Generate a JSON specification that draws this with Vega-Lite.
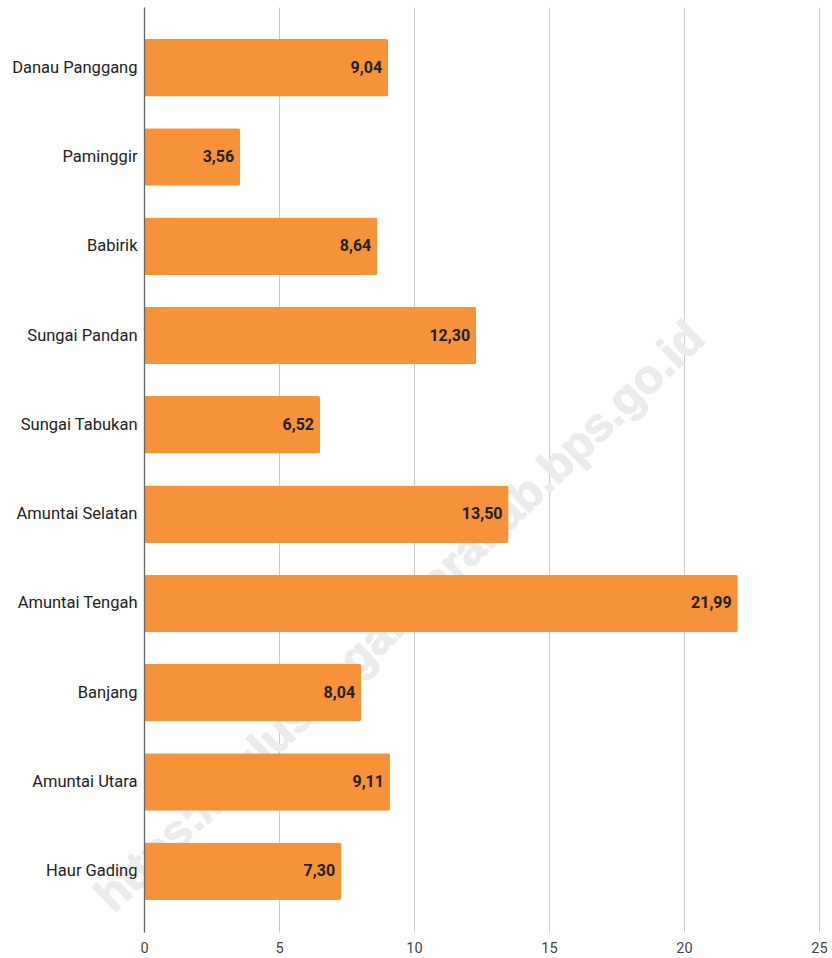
{
  "$schema": "https://vega.github.io/schema/vega-lite/v6.json",
  "width": 675,
  "height": 925,
  "autosize": {"type": "none"},
  "padding": {"left": 144, "top": 7, "right": 13, "bottom": 26},
  "background": "white",
  "config": {
    "view": {"stroke": null},
    "font": "Roboto",
    "locale": {"number": {"decimal": ",", "thousands": ".", "grouping": [3], "currency": ["Rp", ""]}}
  },
  "data": {
    "values": [
      {"kecamatan": "Danau Panggang", "nilai": 9.04},
      {"kecamatan": "Paminggir", "nilai": 3.56},
      {"kecamatan": "Babirik", "nilai": 8.64},
      {"kecamatan": "Sungai Pandan", "nilai": 12.30},
      {"kecamatan": "Sungai Tabukan", "nilai": 6.52},
      {"kecamatan": "Amuntai Selatan", "nilai": 13.50},
      {"kecamatan": "Amuntai Tengah", "nilai": 21.99},
      {"kecamatan": "Banjang", "nilai": 8.04},
      {"kecamatan": "Amuntai Utara", "nilai": 9.11},
      {"kecamatan": "Haur Gading", "nilai": 7.30}
    ]
  },
  "encoding": {
    "y": {
      "field": "kecamatan",
      "type": "nominal",
      "sort": null,
      "title": null,
      "scale": {
        "domain": ["Danau Panggang", "Paminggir", "Babirik", "Sungai Pandan", "Sungai Tabukan", "Amuntai Selatan", "Amuntai Tengah", "Banjang", "Amuntai Utara", "Haur Gading"],
        "paddingInner": 0.356,
        "paddingOuter": 0.358
      },
      "axis": {
        "zindex": 1,
        "ticks": false,
        "domain": true,
        "domainColor": "#666666",
        "domainWidth": 1.3,
        "labelFont": "Roboto",
        "labelFontSize": 16.5,
        "labelColor": "#222222",
        "labelPadding": 7,
        "grid": false
      }
    },
    "x": {
      "field": "nilai",
      "type": "quantitative",
      "title": null,
      "scale": {"domain": [0, 25], "nice": false},
      "axis": {
        "values": [0, 5, 10, 15, 20, 25],
        "ticks": false,
        "domain": false,
        "grid": true,
        "gridColor": "#cccccc",
        "gridWidth": 1,
        "labelFont": "Roboto",
        "labelFontSize": 14.5,
        "labelColor": "#444444",
        "labelPadding": 9,
        "labelFlush": false
      }
    }
  },
  "layer": [
    {
      "mark": {
        "type": "text",
        "align": "center",
        "baseline": "middle",
        "angle": -44,
        "font": "Liberation Sans",
        "fontSize": 47,
        "fontWeight": "bold",
        "yOffset": 14,
        "color": "#ececec",
        "text": "https://hulusungaiutarakab.bps.go.id"
      },
      "encoding": {
        "x": {"datum": 9.5, "type": "quantitative"},
        "y": {"datum": "Amuntai Tengah", "type": "nominal"}
      }
    },
    {
      "mark": {"type": "bar", "color": "#F6923A", "cornerRadius": 2}
    },
    {
      "mark": {
        "type": "text",
        "align": "right",
        "baseline": "middle",
        "dx": -6,
        "font": "Roboto",
        "fontSize": 16,
        "fontWeight": "bold",
        "color": "#222222"
      },
      "encoding": {
        "text": {"field": "nilai", "type": "quantitative", "format": ".2f"}
      }
    }
  ]
}
